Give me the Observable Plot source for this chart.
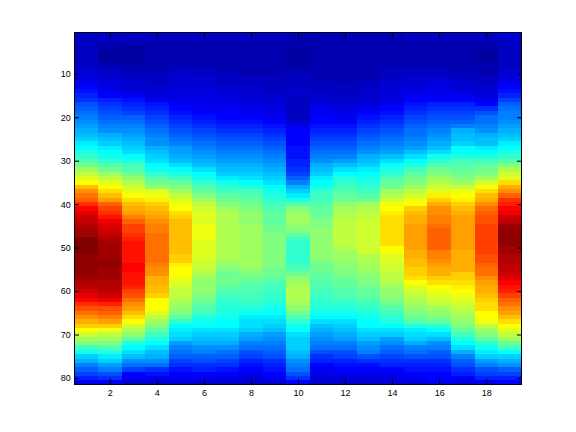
<!DOCTYPE html>
<html>
<head>
<meta charset="utf-8">
<style>html,body{margin:0;padding:0;background:#fff;overflow:hidden}svg{display:block}</style>
<script src="https://cdn.jsdelivr.net/npm/d3@7"></script>
<script src="https://cdn.jsdelivr.net/npm/@observablehq/plot@0.6"></script>
</head>
<body>
<div id="chart"></div>
<script>
const c1=[4,3,3,3,3,3,3,3,4,5,5,6,7,8,9,10,12,13,14,15,16,17,18,19,20,22,23,25,26,28,30,33,35,37,39,43,46,48,49,52,55,57,58,59,60,61,61,63,63,63,63,62,62,62,62,62,61,60,59,58,57,55,52,50,48,46,44,42,39,36,33,31,27,24,20,18,15,13,11,9,6];
const c2=[4,3,2,2,1,1,1,2,3,4,4,5,5,6,7,9,10,11,12,13,14,15,16,18,19,20,22,23,24,26,28,30,33,35,37,39,41,43,45,49,51,52,54,56,57,58,59,60,61,61,61,61,62,62,61,61,61,60,60,59,58,56,53,50,49,47,45,42,38,35,33,31,28,25,22,20,17,15,12,10,6];
const c3=[4,3,2,1,1,1,1,2,2,3,3,4,4,5,6,8,9,10,11,13,14,15,16,17,18,19,20,21,23,25,27,28,30,32,34,36,37,39,41,43,44,45,47,49,51,51,52,53,54,54,54,54,54,55,55,54,54,54,53,51,50,48,46,45,43,41,39,36,34,32,29,25,23,21,19,16,14,11,7,6,4];
const c4=[4,3,2,2,2,2,2,2,2,3,3,3,4,4,5,6,8,9,10,11,12,13,14,15,16,16,18,19,20,21,23,24,26,28,30,32,37,38,40,42,43,44,45,46,47,47,48,48,48,48,48,48,48,47,46,46,44,44,43,43,42,39,39,39,37,35,33,31,29,27,25,23,21,19,18,16,14,10,8,6,4];
const c5=[4,3,2,2,2,2,2,2,3,4,4,4,5,5,5,6,6,7,8,9,10,11,12,13,14,15,17,17,18,19,21,23,25,27,29,31,33,35,37,38,39,41,42,43,43,43,43,43,43,43,43,42,42,40,39,39,38,37,36,35,35,34,33,32,31,29,26,23,22,21,20,17,15,14,13,11,10,8,7,6,5];
const c6=[4,3,2,2,2,2,2,2,3,3,4,4,5,5,5,6,6,6,7,8,9,10,11,12,13,14,15,16,17,18,19,21,23,24,26,28,29,31,33,35,36,37,37,37,38,38,38,38,37,37,37,37,36,36,35,34,33,32,32,32,31,30,29,28,27,25,24,23,21,20,19,18,16,15,13,12,10,9,7,6,4];
const c7=[4,3,2,2,2,2,2,2,2,3,3,3,4,5,5,5,6,6,7,7,8,9,10,11,12,13,14,15,16,17,18,19,20,22,24,26,27,29,30,31,33,34,34,34,34,34,34,34,34,34,34,34,33,32,31,30,30,30,29,28,27,26,26,25,25,24,23,23,21,20,19,18,16,14,13,11,10,8,7,5,4];
const c8=[4,3,2,2,2,2,2,2,2,2,3,3,4,4,4,5,5,6,6,7,8,9,10,11,12,13,14,15,16,17,18,19,20,21,23,25,27,28,29,30,31,32,32,32,33,33,33,33,33,33,33,33,33,33,32,31,30,29,28,28,27,27,26,25,24,22,21,21,20,18,17,15,14,12,11,9,8,7,6,5,4];
const c9=[4,3,2,2,2,2,2,2,2,2,3,3,3,3,4,4,5,5,6,6,7,8,9,10,11,12,13,14,15,16,17,18,19,20,21,23,24,25,26,27,28,29,29,29,30,30,31,31,31,31,31,31,31,31,30,30,29,28,27,27,26,26,25,24,23,22,21,20,19,17,16,15,14,13,12,10,9,8,7,6,4];
const c10=[3,2,2,1,1,1,1,1,2,3,3,3,3,4,3,3,3,3,3,3,4,6,7,7,7,7,8,8,8,9,9,10,11,13,15,18,20,22,25,28,31,33,33,33,32,31,29,27,26,26,26,26,26,27,28,30,32,33,34,34,34,34,33,32,30,28,26,24,23,21,20,20,20,19,18,16,15,14,12,10,7];
const c11=[3,2,2,2,2,2,2,2,2,2,2,3,3,3,4,4,5,6,6,7,7,8,9,10,11,12,13,14,15,16,18,19,20,22,23,24,26,27,27,28,29,29,30,31,31,32,32,32,32,32,32,32,31,30,30,29,29,28,28,27,27,26,26,25,24,23,21,19,18,17,16,15,14,12,10,9,7,6,6,5,4];
const c12=[3,2,2,2,2,2,2,2,2,2,2,2,3,3,3,4,4,5,6,6,7,8,9,10,11,12,13,14,15,17,19,21,23,25,26,27,28,29,30,32,33,34,34,35,35,35,35,35,35,34,33,33,32,32,31,31,30,29,29,28,28,27,26,25,24,23,21,20,19,18,17,15,14,12,11,9,8,7,6,5,4];
const c13=[3,2,2,2,2,2,2,2,2,2,2,3,3,4,4,4,5,6,7,8,9,10,11,12,13,14,15,16,18,19,20,22,23,24,25,26,27,28,30,33,34,35,35,36,36,36,36,36,36,36,36,34,34,33,33,32,31,31,30,29,29,28,27,26,25,24,23,23,21,20,19,17,16,15,12,10,8,7,6,5,4];
const c14=[3,2,2,2,2,2,2,2,3,3,3,4,4,5,5,5,6,7,8,9,10,11,12,13,14,15,16,17,19,21,23,25,26,28,29,30,33,34,36,38,39,40,41,41,41,41,41,41,41,39,39,37,37,36,36,35,35,34,33,32,32,31,30,28,27,26,25,23,21,20,17,16,14,13,11,10,9,7,6,5,5];
const c15=[4,3,2,2,2,2,2,2,3,3,4,4,5,5,6,7,8,9,10,11,12,13,14,14,15,16,17,19,21,23,25,27,29,30,31,33,35,36,38,39,42,43,44,44,45,45,45,45,45,45,44,44,43,43,42,42,41,39,37,36,35,34,33,32,31,30,28,25,22,21,20,18,15,14,12,10,9,8,7,6,5];
const c16=[4,3,2,2,2,2,2,2,3,3,4,5,5,6,6,7,9,10,11,12,13,14,15,16,17,18,19,21,24,26,28,30,31,33,34,36,37,40,42,44,46,46,47,47,48,49,49,49,49,49,47,47,46,45,44,44,42,41,39,38,37,36,35,33,32,31,29,26,23,21,19,16,15,13,12,10,9,8,7,7,6];
const c17=[4,3,2,2,2,2,2,2,2,3,3,4,4,5,6,7,9,10,11,12,13,15,18,19,19,20,23,23,25,27,28,29,30,31,33,35,38,39,40,42,43,44,45,45,45,45,45,45,45,45,44,44,44,44,44,42,42,41,40,39,38,37,36,35,34,33,32,31,29,27,25,23,21,18,15,13,12,10,9,7,5];
const c18=[4,3,2,2,1,1,1,2,2,2,3,3,4,4,5,6,7,10,12,14,14,15,16,18,19,19,22,23,25,27,29,30,31,33,36,39,41,43,44,46,48,49,50,50,51,51,51,51,51,51,51,50,50,49,48,48,46,45,44,44,43,42,41,41,39,39,38,35,33,31,29,26,24,22,20,17,15,12,11,9,6];
const c19=[5,4,3,3,3,3,3,3,4,4,5,6,7,8,9,11,13,14,15,15,16,17,18,19,20,22,23,25,26,28,31,34,36,37,41,44,46,49,52,53,55,56,58,59,61,62,62,62,62,61,61,60,60,59,59,58,57,55,54,53,51,49,48,46,45,43,41,39,37,35,33,30,27,23,20,18,16,13,11,9,7];
const columns=[c1,c2,c3,c4,c5,c6,c7,c8,c9,c10,c11,c12,c13,c14,c15,c16,c17,c18,c19];
const xTicks=[2,4,6,8,10,12,14,16,18];
const yTicks=[10,20,30,40,50,60,70,80];
const jetLevels=[0,7,23,39,55,63];
const jetColors=["#000090","#0000ff","#00ffff","#ffff00","#ff0000","#800000"];
const cells=columns.flatMap((col,i)=>col.map((v,j)=>({col:i+1,row:j+1,v})));
const tickOpts={tickSize:-5,stroke:"#000",strokeWidth:1,color:"#000"};
const chart=Plot.plot({
  width:576,height:432,
  marginLeft:74,marginRight:55,marginTop:32,marginBottom:48,
  style:{background:"#fff",fontFamily:"'Liberation Sans',Arial,sans-serif",fontSize:"9px",color:"#000"},
  x:{domain:[0.5,19.5],label:null},
  y:{domain:[0.5,81.5],reverse:true,label:null},
  color:{type:"linear",domain:jetLevels,range:jetColors,interpolate:"rgb"},
  marks:[
    Plot.rect(cells,{x1:d=>d.col-0.5,x2:d=>d.col+0.5,y1:d=>d.row-0.5,y2:d=>d.row+0.5,fill:"v",inset:0,dx:0.6,dy:0.6,clip:true,shapeRendering:"crispEdges"}),
    Plot.axisX(xTicks,{anchor:"bottom",label:null,tickPadding:10.5,dx:0.5,...tickOpts}),
    Plot.axisX(xTicks,{anchor:"top",label:null,tickFormat:()=>"",dx:0.5,...tickOpts}),
    Plot.axisY(yTicks,{anchor:"left",label:null,tickPadding:8.7,dy:0.5,...tickOpts}),
    Plot.axisY(yTicks,{anchor:"right",label:null,tickFormat:()=>"",dy:0.5,...tickOpts}),
    Plot.frame({stroke:"#000",strokeWidth:1})
  ]
});
document.getElementById("chart").append(chart);
</script>
</body>
</html>
